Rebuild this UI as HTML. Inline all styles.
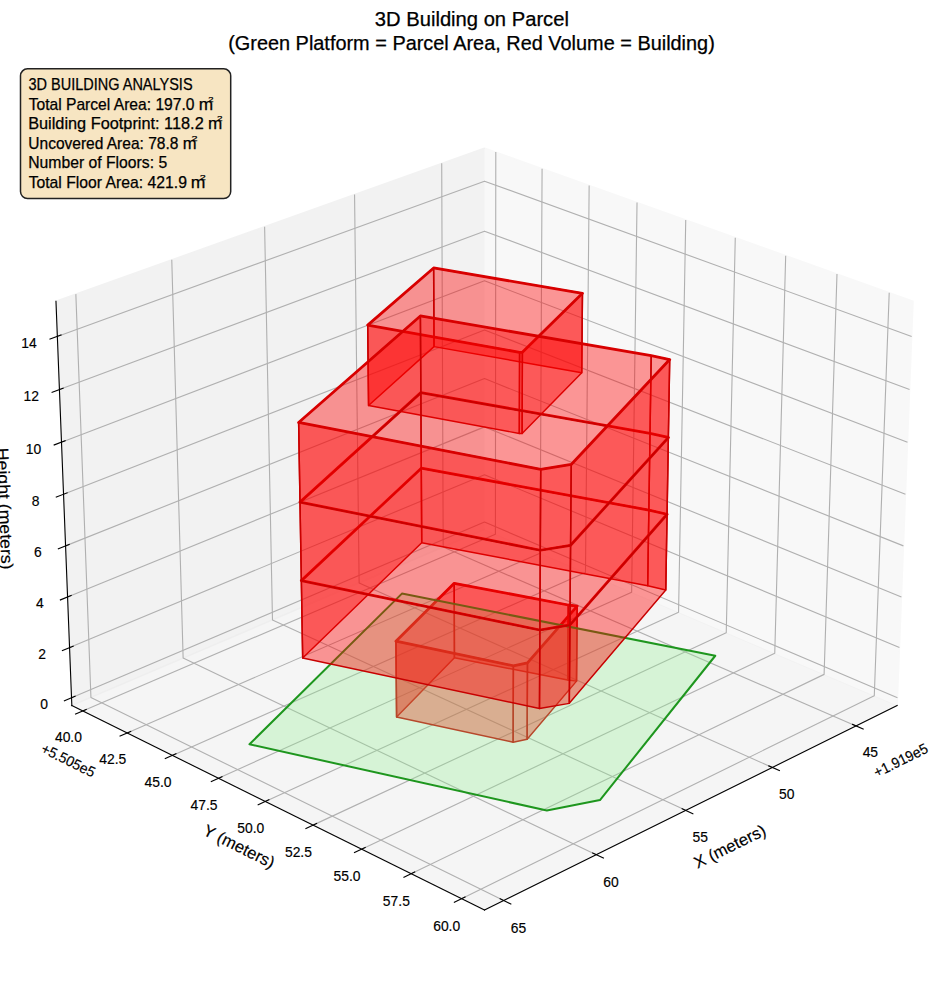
<!DOCTYPE html>
<html><head><meta charset="utf-8"><style>html,body{margin:0;padding:0;background:#fff;overflow:hidden}svg{display:block}</style></head><body>
<svg width="944" height="992" viewBox="0 0 679.68 714.24" version="1.1">
<defs>
<style type="text/css">*{stroke-linejoin: round; stroke-linecap: butt}</style>
</defs>
<g id="figure_1">
<g id="patch_1">
<path d="M 0 714.24 
L 679.68 714.24 
L 679.68 0 
L 0 0 
z
" style="fill: #ffffff"/>
</g>
<g id="patch_2">
<path d="M 7.21 706.82 
L 672.49 706.82 
L 672.49 41.54 
L 7.21 41.54 
z
" style="fill: #ffffff"/>
</g>
<g id="pane3d_1">
<g id="patch_3">
<path d="M 348.84 381.23 
L 645.95 508 
L 657.38 216.89 
L 348.84 106.61 
" style="fill: #f2f2f2; opacity: 0.5; stroke: #f2f2f2; stroke-linejoin: miter"/>
</g>
</g>
<g id="pane3d_2">
<g id="patch_4">
<path d="M 348.84 381.23 
L 51.72 508 
L 40.3 216.89 
L 348.84 106.61 
" style="fill: #e6e6e6; opacity: 0.5; stroke: #e6e6e6; stroke-linejoin: miter"/>
</g>
</g>
<g id="pane3d_3">
<g id="patch_5">
<path d="M 348.84 381.23 
L 51.72 508 
L 348.84 655.28 
L 645.95 508 
" style="fill: #ececec; opacity: 0.5; stroke: #ececec; stroke-linejoin: miter"/>
</g>
</g>
<g id="grid3d_1">
<g id="Line3DCollection_1">
<path d="M 616.36 522.66 
L 319.1 393.92 
L 318.03 117.62 
" style="fill: none; stroke: #b0b0b0; stroke-width: 0.8"/>
<path d="M 556.04 552.57 
L 258.58 419.74 
L 255.28 140.05 
" style="fill: none; stroke: #b0b0b0; stroke-width: 0.8"/>
<path d="M 493.72 583.46 
L 196.19 446.36 
L 190.52 163.2 
" style="fill: none; stroke: #b0b0b0; stroke-width: 0.8"/>
<path d="M 429.29 615.4 
L 131.85 473.81 
L 123.67 187.09 
" style="fill: none; stroke: #b0b0b0; stroke-width: 0.8"/>
<path d="M 362.66 648.43 
L 65.48 502.13 
L 54.61 211.78 
" style="fill: none; stroke: #b0b0b0; stroke-width: 0.8"/>
</g>
</g>
<g id="grid3d_2">
<g id="Line3DCollection_2">
<path d="M 356.97 109.51 
L 356.69 384.58 
L 59.53 511.87 
" style="fill: none; stroke: #b0b0b0; stroke-width: 0.8"/>
<path d="M 390.3 121.43 
L 388.86 398.3 
L 91.55 527.74 
" style="fill: none; stroke: #b0b0b0; stroke-width: 0.8"/>
<path d="M 424.19 133.54 
L 421.55 412.25 
L 124.13 543.89 
" style="fill: none; stroke: #b0b0b0; stroke-width: 0.8"/>
<path d="M 458.66 145.86 
L 454.78 426.43 
L 157.28 560.32 
" style="fill: none; stroke: #b0b0b0; stroke-width: 0.8"/>
<path d="M 493.73 158.4 
L 488.56 440.84 
L 191.03 577.05 
" style="fill: none; stroke: #b0b0b0; stroke-width: 0.8"/>
<path d="M 529.4 171.15 
L 522.9 455.5 
L 225.39 594.09 
" style="fill: none; stroke: #b0b0b0; stroke-width: 0.8"/>
<path d="M 565.69 184.12 
L 557.83 470.4 
L 260.37 611.43 
" style="fill: none; stroke: #b0b0b0; stroke-width: 0.8"/>
<path d="M 602.63 197.33 
L 593.35 485.55 
L 295.99 629.09 
" style="fill: none; stroke: #b0b0b0; stroke-width: 0.8"/>
<path d="M 640.23 210.76 
L 629.48 500.97 
L 332.28 647.07 
" style="fill: none; stroke: #b0b0b0; stroke-width: 0.8"/>
</g>
</g>
<g id="grid3d_3">
<g id="Line3DCollection_3">
<path d="M 51.5 502.39 
L 348.84 375.92 
L 646.17 502.39 
" style="fill: none; stroke: #b0b0b0; stroke-width: 0.8"/>
<path d="M 50.09 466.28 
L 348.84 341.78 
L 647.59 466.28 
" style="fill: none; stroke: #b0b0b0; stroke-width: 0.8"/>
<path d="M 48.65 429.83 
L 348.84 307.34 
L 649.02 429.83 
" style="fill: none; stroke: #b0b0b0; stroke-width: 0.8"/>
<path d="M 47.21 393.03 
L 348.84 272.59 
L 650.46 393.03 
" style="fill: none; stroke: #b0b0b0; stroke-width: 0.8"/>
<path d="M 45.75 355.87 
L 348.84 237.53 
L 651.92 355.87 
" style="fill: none; stroke: #b0b0b0; stroke-width: 0.8"/>
<path d="M 44.28 318.35 
L 348.84 202.15 
L 653.39 318.35 
" style="fill: none; stroke: #b0b0b0; stroke-width: 0.8"/>
<path d="M 42.79 280.46 
L 348.84 166.45 
L 654.88 280.46 
" style="fill: none; stroke: #b0b0b0; stroke-width: 0.8"/>
<path d="M 41.29 242.21 
L 348.84 130.43 
L 656.38 242.21 
" style="fill: none; stroke: #b0b0b0; stroke-width: 0.8"/>
</g>
</g>
<g id="axis3d_1">
<g id="line2d_1">
<path d="M 645.95 508 
L 348.84 655.28 
" style="fill: none; stroke: #000000; stroke-width: 0.8; stroke-linecap: square"/>
</g>
<g id="xtick_1">
<g id="line2d_2">
<path d="M 613.81 521.55 
L 621.49 524.88 
" style="fill: none; stroke: #000000; stroke-width: 0.8; stroke-linecap: square"/>
</g>
<g id="text_1">
<text style="font-size:10.60px;font-family:'Liberation Sans';text-anchor:middle;stroke:#000;stroke-width:0.12px" x="626.66" y="544.88" transform="rotate(-0 626.66 544.88)" textLength="11.12" lengthAdjust="spacingAndGlyphs">45</text>
</g>
</g>
<g id="xtick_2">
<g id="line2d_3">
<path d="M 553.48 551.42 
L 561.17 554.86 
" style="fill: none; stroke: #000000; stroke-width: 0.8; stroke-linecap: square"/>
</g>
<g id="text_2">
<text style="font-size:10.60px;font-family:'Liberation Sans';text-anchor:middle;stroke:#000;stroke-width:0.12px" x="566.42" y="575.05" transform="rotate(-0 566.42 575.05)" textLength="11.12" lengthAdjust="spacingAndGlyphs">50</text>
</g>
</g>
<g id="xtick_3">
<g id="line2d_4">
<path d="M 491.15 582.28 
L 498.86 585.83 
" style="fill: none; stroke: #000000; stroke-width: 0.8; stroke-linecap: square"/>
</g>
<g id="text_3">
<text style="font-size:10.60px;font-family:'Liberation Sans';text-anchor:middle;stroke:#000;stroke-width:0.12px" x="504.19" y="606.22" transform="rotate(-0 504.19 606.22)" textLength="11.12" lengthAdjust="spacingAndGlyphs">55</text>
</g>
</g>
<g id="xtick_4">
<g id="line2d_5">
<path d="M 426.73 614.18 
L 434.44 617.85 
" style="fill: none; stroke: #000000; stroke-width: 0.8; stroke-linecap: square"/>
</g>
<g id="text_4">
<text style="font-size:10.60px;font-family:'Liberation Sans';text-anchor:middle;stroke:#000;stroke-width:0.12px" x="439.86" y="638.45" transform="rotate(-0 439.86 638.45)" textLength="11.12" lengthAdjust="spacingAndGlyphs">60</text>
</g>
</g>
<g id="xtick_5">
<g id="line2d_6">
<path d="M 360.09 647.16 
L 367.81 650.96 
" style="fill: none; stroke: #000000; stroke-width: 0.8; stroke-linecap: square"/>
</g>
<g id="text_5">
<text style="font-size:10.60px;font-family:'Liberation Sans';text-anchor:middle;stroke:#000;stroke-width:0.12px" x="373.32" y="671.78" transform="rotate(-0 373.32 671.78)" textLength="11.12" lengthAdjust="spacingAndGlyphs">65</text>
</g>
</g>
<g id="text_6">
<text style="font-size:10.60px;font-family:'Liberation Sans';text-anchor:end;stroke:#000;stroke-width:0.12px" x="668.97" y="541.35" transform="rotate(-26.37 668.97 541.35)" textLength="41.99" lengthAdjust="spacingAndGlyphs">+1.919e5</text>
</g>
<g id="text_7">
<text style="font-size:12.00px;font-family:'Liberation Sans';text-anchor:middle;stroke:#000;stroke-width:0.12px" x="527.32" y="613.07" transform="rotate(-26.37 527.32 613.07)" textLength="56.00" lengthAdjust="spacingAndGlyphs">X (meters)</text>
</g>
</g>
<g id="axis3d_2">
<g id="line2d_7">
<path d="M 51.72 508 
L 348.84 655.28 
" style="fill: none; stroke: #000000; stroke-width: 0.8; stroke-linecap: square"/>
</g>
<g id="xtick_6">
<g id="line2d_8">
<path d="M 62.09 510.77 
L 54.42 514.06 
" style="fill: none; stroke: #000000; stroke-width: 0.8; stroke-linecap: square"/>
</g>
<g id="text_8">
<text style="font-size:10.60px;font-family:'Liberation Sans';text-anchor:middle;stroke:#000;stroke-width:0.12px" x="49.27" y="533.99" transform="rotate(-0 49.27 533.99)" textLength="19.46" lengthAdjust="spacingAndGlyphs">40.0</text>
</g>
</g>
<g id="xtick_7">
<g id="line2d_9">
<path d="M 94.11 526.63 
L 86.43 529.97 
" style="fill: none; stroke: #000000; stroke-width: 0.8; stroke-linecap: square"/>
</g>
<g id="text_9">
<text style="font-size:10.60px;font-family:'Liberation Sans';text-anchor:middle;stroke:#000;stroke-width:0.12px" x="81.24" y="550.00" transform="rotate(-0 81.24 550.00)" textLength="19.46" lengthAdjust="spacingAndGlyphs">42.5</text>
</g>
</g>
<g id="xtick_8">
<g id="line2d_10">
<path d="M 126.69 542.76 
L 119 546.16 
" style="fill: none; stroke: #000000; stroke-width: 0.8; stroke-linecap: square"/>
</g>
<g id="text_10">
<text style="font-size:10.60px;font-family:'Liberation Sans';text-anchor:middle;stroke:#000;stroke-width:0.12px" x="113.77" y="566.30" transform="rotate(-0 113.77 566.30)" textLength="19.46" lengthAdjust="spacingAndGlyphs">45.0</text>
</g>
</g>
<g id="xtick_9">
<g id="line2d_11">
<path d="M 159.84 559.17 
L 152.15 562.63 
" style="fill: none; stroke: #000000; stroke-width: 0.8; stroke-linecap: square"/>
</g>
<g id="text_11">
<text style="font-size:10.60px;font-family:'Liberation Sans';text-anchor:middle;stroke:#000;stroke-width:0.12px" x="146.88" y="582.88" transform="rotate(-0 146.88 582.88)" textLength="19.46" lengthAdjust="spacingAndGlyphs">47.5</text>
</g>
</g>
<g id="xtick_10">
<g id="line2d_12">
<path d="M 193.59 575.88 
L 185.89 579.41 
" style="fill: none; stroke: #000000; stroke-width: 0.8; stroke-linecap: square"/>
</g>
<g id="text_12">
<text style="font-size:10.60px;font-family:'Liberation Sans';text-anchor:middle;stroke:#000;stroke-width:0.12px" x="180.58" y="599.76" transform="rotate(-0 180.58 599.76)" textLength="19.46" lengthAdjust="spacingAndGlyphs">50.0</text>
</g>
</g>
<g id="xtick_11">
<g id="line2d_13">
<path d="M 227.95 592.89 
L 220.25 596.48 
" style="fill: none; stroke: #000000; stroke-width: 0.8; stroke-linecap: square"/>
</g>
<g id="text_13">
<text style="font-size:10.60px;font-family:'Liberation Sans';text-anchor:middle;stroke:#000;stroke-width:0.12px" x="214.88" y="616.94" transform="rotate(-0 214.88 616.94)" textLength="19.46" lengthAdjust="spacingAndGlyphs">52.5</text>
</g>
</g>
<g id="xtick_12">
<g id="line2d_14">
<path d="M 262.93 610.21 
L 255.23 613.86 
" style="fill: none; stroke: #000000; stroke-width: 0.8; stroke-linecap: square"/>
</g>
<g id="text_14">
<text style="font-size:10.60px;font-family:'Liberation Sans';text-anchor:middle;stroke:#000;stroke-width:0.12px" x="249.81" y="634.44" transform="rotate(-0 249.81 634.44)" textLength="19.46" lengthAdjust="spacingAndGlyphs">55.0</text>
</g>
</g>
<g id="xtick_13">
<g id="line2d_15">
<path d="M 298.56 627.85 
L 290.85 631.57 
" style="fill: none; stroke: #000000; stroke-width: 0.8; stroke-linecap: square"/>
</g>
<g id="text_15">
<text style="font-size:10.60px;font-family:'Liberation Sans';text-anchor:middle;stroke:#000;stroke-width:0.12px" x="285.39" y="652.26" transform="rotate(-0 285.39 652.26)" textLength="19.46" lengthAdjust="spacingAndGlyphs">57.5</text>
</g>
</g>
<g id="xtick_14">
<g id="line2d_16">
<path d="M 334.84 645.81 
L 327.13 649.6 
" style="fill: none; stroke: #000000; stroke-width: 0.8; stroke-linecap: square"/>
</g>
<g id="text_16">
<text style="font-size:10.60px;font-family:'Liberation Sans';text-anchor:middle;stroke:#000;stroke-width:0.12px" x="321.62" y="670.41" transform="rotate(-0 321.62 670.41)" textLength="19.46" lengthAdjust="spacingAndGlyphs">60.0</text>
</g>
</g>
<g id="text_17">
<text style="font-size:10.60px;font-family:'Liberation Sans';text-anchor:start;stroke:#000;stroke-width:0.12px" x="28.71" y="541.35" transform="rotate(-333.63 28.71 541.35)" textLength="41.99" lengthAdjust="spacingAndGlyphs">+5.505e5</text>
</g>
<g id="text_18">
<text style="font-size:12.00px;font-family:'Liberation Sans';text-anchor:middle;stroke:#000;stroke-width:0.12px" x="170.35" y="613.07" transform="rotate(-333.63 170.35 613.07)" textLength="55.79" lengthAdjust="spacingAndGlyphs">Y (meters)</text>
</g>
</g>
<g id="axis3d_3">
<g id="line2d_17">
<path d="M 51.72 508 
L 40.3 216.89 
" style="fill: none; stroke: #000000; stroke-width: 0.8; stroke-linecap: square"/>
</g>
<g id="xtick_15">
<g id="line2d_18">
<path d="M 54.06 501.3 
L 46.38 504.56 
" style="fill: none; stroke: #000000; stroke-width: 0.8; stroke-linecap: square"/>
</g>
<g id="text_19">
<text style="font-size:10.60px;font-family:'Liberation Sans';text-anchor:middle;stroke:#000;stroke-width:0.12px" x="31.77" y="510.63" transform="rotate(-0 31.77 510.63)" textLength="5.56" lengthAdjust="spacingAndGlyphs">0</text>
</g>
</g>
<g id="xtick_16">
<g id="line2d_19">
<path d="M 52.65 465.21 
L 44.94 468.42 
" style="fill: none; stroke: #000000; stroke-width: 0.8; stroke-linecap: square"/>
</g>
<g id="text_20">
<text style="font-size:10.60px;font-family:'Liberation Sans';text-anchor:middle;stroke:#000;stroke-width:0.12px" x="30.26" y="474.53" transform="rotate(-0 30.26 474.53)" textLength="5.56" lengthAdjust="spacingAndGlyphs">2</text>
</g>
</g>
<g id="xtick_17">
<g id="line2d_20">
<path d="M 51.24 428.77 
L 43.48 431.94 
" style="fill: none; stroke: #000000; stroke-width: 0.8; stroke-linecap: square"/>
</g>
<g id="text_21">
<text style="font-size:10.60px;font-family:'Liberation Sans';text-anchor:middle;stroke:#000;stroke-width:0.12px" x="28.73" y="438.08" transform="rotate(-0 28.73 438.08)" textLength="5.56" lengthAdjust="spacingAndGlyphs">4</text>
</g>
</g>
<g id="xtick_18">
<g id="line2d_21">
<path d="M 49.81 391.99 
L 42.01 395.1 
" style="fill: none; stroke: #000000; stroke-width: 0.8; stroke-linecap: square"/>
</g>
<g id="text_22">
<text style="font-size:10.60px;font-family:'Liberation Sans';text-anchor:middle;stroke:#000;stroke-width:0.12px" x="27.19" y="401.27" transform="rotate(-0 27.19 401.27)" textLength="5.56" lengthAdjust="spacingAndGlyphs">6</text>
</g>
</g>
<g id="xtick_19">
<g id="line2d_22">
<path d="M 48.36 354.85 
L 40.53 357.91 
" style="fill: none; stroke: #000000; stroke-width: 0.8; stroke-linecap: square"/>
</g>
<g id="text_23">
<text style="font-size:10.60px;font-family:'Liberation Sans';text-anchor:middle;stroke:#000;stroke-width:0.12px" x="25.63" y="364.11" transform="rotate(-0 25.63 364.11)" textLength="5.56" lengthAdjust="spacingAndGlyphs">8</text>
</g>
</g>
<g id="xtick_20">
<g id="line2d_23">
<path d="M 46.9 317.35 
L 39.03 320.35 
" style="fill: none; stroke: #000000; stroke-width: 0.8; stroke-linecap: square"/>
</g>
<g id="text_24">
<text style="font-size:10.60px;font-family:'Liberation Sans';text-anchor:middle;stroke:#000;stroke-width:0.12px" x="24.06" y="326.60" transform="rotate(-0 24.06 326.60)" textLength="11.12" lengthAdjust="spacingAndGlyphs">10</text>
</g>
</g>
<g id="xtick_21">
<g id="line2d_24">
<path d="M 45.43 279.48 
L 37.51 282.43 
" style="fill: none; stroke: #000000; stroke-width: 0.8; stroke-linecap: square"/>
</g>
<g id="text_25">
<text style="font-size:10.60px;font-family:'Liberation Sans';text-anchor:middle;stroke:#000;stroke-width:0.12px" x="22.48" y="288.71" transform="rotate(-0 22.48 288.71)" textLength="11.12" lengthAdjust="spacingAndGlyphs">12</text>
</g>
</g>
<g id="xtick_22">
<g id="line2d_25">
<path d="M 43.94 241.24 
L 35.98 244.13 
" style="fill: none; stroke: #000000; stroke-width: 0.8; stroke-linecap: square"/>
</g>
<g id="text_26">
<text style="font-size:10.60px;font-family:'Liberation Sans';text-anchor:middle;stroke:#000;stroke-width:0.12px" x="20.88" y="250.45" transform="rotate(-0 20.88 250.45)" textLength="11.12" lengthAdjust="spacingAndGlyphs">14</text>
</g>
</g>
<g id="text_27">
<text style="font-size:12.00px;font-family:'Liberation Sans';text-anchor:middle;stroke:#000;stroke-width:0.12px" x="-0.63" y="366.41" transform="rotate(-272.25 -0.63 366.41)" textLength="87.65" lengthAdjust="spacingAndGlyphs">Height (meters)</text>
</g>
</g>
<g id="axes_1">
<g id="Poly3DCollection_1">
<path d="M 408.74 489.59 
L 327.19 473.59 
L 327.03 419.96 
L 409.17 435.6 
z
" clip-path="url(#p5c4aa6cc1f)" style="fill: #ff0000; fill-opacity: 0.4; stroke: #c80000; stroke-width: 1.05"/>
<path d="M 415.1 490.42 
L 408.74 489.59 
L 409.17 435.6 
L 415.57 436.4 
z
" clip-path="url(#p5c4aa6cc1f)" style="fill: #ff0000; fill-opacity: 0.4; stroke: #c80000; stroke-width: 1.05"/>
<path d="M 327.19 473.59 
L 285.54 516.27 
L 285.08 461.66 
L 327.03 419.96 
z
" clip-path="url(#p5c4aa6cc1f)" style="fill: #ff0000; fill-opacity: 0.4; stroke: #c80000; stroke-width: 1.05"/>
<path d="M 379.55 532.26 
L 415.1 490.42 
L 415.57 436.4 
L 379.78 477.29 
z
" clip-path="url(#p5c4aa6cc1f)" style="fill: #ff0000; fill-opacity: 0.4; stroke: #c80000; stroke-width: 1.05"/>
<path d="M 285.54 516.27 
L 369.48 534.37 
L 369.63 479.35 
L 285.08 461.66 
z
" clip-path="url(#p5c4aa6cc1f)" style="fill: #ff0000; fill-opacity: 0.4; stroke: #c80000; stroke-width: 1.05"/>
<path d="M 369.48 534.37 
L 379.55 532.26 
L 379.78 477.29 
L 369.63 479.35 
z
" clip-path="url(#p5c4aa6cc1f)" style="fill: #ff0000; fill-opacity: 0.4; stroke: #c80000; stroke-width: 1.05"/>
</g>
<g id="Poly3DCollection_2">
<defs>
<path id="m2310b0d514" d="M 285.08 -252.58 
L 369.63 -234.89 
L 379.78 -236.95 
L 415.57 -277.84 
L 409.17 -278.64 
L 327.03 -294.28 
z
" style="stroke: #d80000; stroke-width: 2"/>
</defs>
<g clip-path="url(#p5c4aa6cc1f)">
<use href="#m2310b0d514" x="0" y="714.24" style="fill: #ff0000; fill-opacity: 0; stroke: #d80000; stroke-width: 2"/>
</g>
</g>
<g id="Poly3DCollection_3">
<defs>
<path id="mc776e801ff" d="M 179.62 -178.37 
L 289.38 -286.85 
L 515 -242.1 
L 431.98 -138.22 
L 393.74 -130.64 
z
" style="stroke: #1e961e; stroke-width: 1.45"/>
</defs>
<g clip-path="url(#p5c4aa6cc1f)">
<use href="#mc776e801ff" x="0" y="714.24" style="fill: #90ee90; fill-opacity: 0.3; stroke: #1e961e; stroke-width: 1.45"/>
</g>
</g>
<g id="Poly3DCollection_4">
<path d="M 466.34 421.68 
L 303.64 390.79 
L 303.33 337.12 
L 467.18 367.25 
z
" clip-path="url(#p5c4aa6cc1f)" style="fill: #ff0000; fill-opacity: 0.4; stroke: #c80000; stroke-width: 1.05"/>
<path d="M 479.36 424.75 
L 466.34 421.68 
L 467.18 367.25 
L 480.29 370.25 
z
" clip-path="url(#p5c4aa6cc1f)" style="fill: #ff0000; fill-opacity: 0.4; stroke: #c80000; stroke-width: 1.05"/>
<path d="M 303.64 390.79 
L 217.93 473.75 
L 216.97 418.05 
L 303.33 337.12 
z
" clip-path="url(#p5c4aa6cc1f)" style="fill: #ff0000; fill-opacity: 0.4; stroke: #c80000; stroke-width: 1.05"/>
<path d="M 409.89 506.41 
L 479.36 424.75 
L 480.29 370.25 
L 410.35 449.94 
z
" clip-path="url(#p5c4aa6cc1f)" style="fill: #ff0000; fill-opacity: 0.4; stroke: #c80000; stroke-width: 1.05"/>
<path d="M 217.93 473.75 
L 388.43 510.16 
L 388.72 453.6 
L 216.97 418.05 
z
" clip-path="url(#p5c4aa6cc1f)" style="fill: #ff0000; fill-opacity: 0.4; stroke: #c80000; stroke-width: 1.05"/>
<path d="M 388.43 510.16 
L 409.89 506.41 
L 410.35 449.94 
L 388.72 453.6 
z
" clip-path="url(#p5c4aa6cc1f)" style="fill: #ff0000; fill-opacity: 0.4; stroke: #c80000; stroke-width: 1.05"/>
</g>
<g id="Poly3DCollection_5">
<defs>
<path id="mcab7ebeb13" d="M 216.97 -296.19 
L 388.72 -260.64 
L 410.35 -264.3 
L 480.29 -343.99 
L 467.18 -346.99 
L 303.33 -377.12 
z
" style="stroke: #d80000; stroke-width: 2"/>
</defs>
<g clip-path="url(#p5c4aa6cc1f)">
<use href="#mcab7ebeb13" x="0" y="714.24" style="fill: #ff0000; fill-opacity: 0; stroke: #d80000; stroke-width: 2"/>
</g>
</g>
<g id="Poly3DCollection_6">
<path d="M 418.86 268.34 
L 312.49 249.58 
L 312.22 192.95 
L 419.37 211.17 
z
" clip-path="url(#p5c4aa6cc1f)" style="fill: #ff0000; fill-opacity: 0.4; stroke: #c80000; stroke-width: 1.05"/>
<path d="M 312.49 249.58 
L 265.36 291.95 
L 264.74 234.09 
L 312.22 192.95 
z
" clip-path="url(#p5c4aa6cc1f)" style="fill: #ff0000; fill-opacity: 0.4; stroke: #c80000; stroke-width: 1.05"/>
<path d="M 375.92 312.1 
L 418.86 268.34 
L 419.37 211.17 
L 376.12 253.66 
z
" clip-path="url(#p5c4aa6cc1f)" style="fill: #ff0000; fill-opacity: 0.4; stroke: #c80000; stroke-width: 1.05"/>
<path d="M 265.36 291.95 
L 373.92 312.1 
L 374.11 253.65 
L 264.74 234.09 
z
" clip-path="url(#p5c4aa6cc1f)" style="fill: #ff0000; fill-opacity: 0.4; stroke: #c80000; stroke-width: 1.05"/>
<path d="M 373.92 312.1 
L 375.92 312.1 
L 376.12 253.66 
L 374.11 253.65 
z
" clip-path="url(#p5c4aa6cc1f)" style="fill: #ff0000; fill-opacity: 0.4; stroke: #c80000; stroke-width: 1.05"/>
</g>
<g id="Poly3DCollection_7">
<defs>
<path id="mf108a5ea0c" d="M 312.22 -521.29 
L 264.74 -480.15 
L 374.11 -460.59 
L 376.12 -460.58 
L 419.37 -503.07 
z
" style="stroke: #d80000; stroke-width: 2"/>
</defs>
<g clip-path="url(#p5c4aa6cc1f)">
<use href="#mf108a5ea0c" x="0" y="714.24" style="fill: #ff0000; fill-opacity: 0; stroke: #d80000; stroke-width: 2"/>
</g>
</g>
<g id="Poly3DCollection_8">
<path d="M 467.18 367.25 
L 303.33 337.12 
L 303.01 282.7 
L 468.02 312.05 
z
" clip-path="url(#p5c4aa6cc1f)" style="fill: #ff0000; fill-opacity: 0.4; stroke: #c80000; stroke-width: 1.05"/>
<path d="M 480.29 370.25 
L 467.18 367.25 
L 468.02 312.05 
L 481.23 314.97 
z
" clip-path="url(#p5c4aa6cc1f)" style="fill: #ff0000; fill-opacity: 0.4; stroke: #c80000; stroke-width: 1.05"/>
<path d="M 303.33 337.12 
L 216.97 418.05 
L 216 361.54 
L 303.01 282.7 
z
" clip-path="url(#p5c4aa6cc1f)" style="fill: #ff0000; fill-opacity: 0.4; stroke: #c80000; stroke-width: 1.05"/>
<path d="M 410.35 449.94 
L 480.29 370.25 
L 481.23 314.97 
L 410.81 392.61 
z
" clip-path="url(#p5c4aa6cc1f)" style="fill: #ff0000; fill-opacity: 0.4; stroke: #c80000; stroke-width: 1.05"/>
<path d="M 216.97 418.05 
L 388.72 453.6 
L 389.02 396.18 
L 216 361.54 
z
" clip-path="url(#p5c4aa6cc1f)" style="fill: #ff0000; fill-opacity: 0.4; stroke: #c80000; stroke-width: 1.05"/>
<path d="M 388.72 453.6 
L 410.35 449.94 
L 410.81 392.61 
L 389.02 396.18 
z
" clip-path="url(#p5c4aa6cc1f)" style="fill: #ff0000; fill-opacity: 0.4; stroke: #c80000; stroke-width: 1.05"/>
</g>
<g id="Poly3DCollection_9">
<defs>
<path id="m34fb67b38a" d="M 216 -352.7 
L 389.02 -318.06 
L 410.81 -321.63 
L 481.23 -399.27 
L 468.02 -402.19 
L 303.01 -431.54 
z
" style="stroke: #d80000; stroke-width: 2"/>
</defs>
<g clip-path="url(#p5c4aa6cc1f)">
<use href="#m34fb67b38a" x="0" y="714.24" style="fill: #ff0000; fill-opacity: 0; stroke: #d80000; stroke-width: 2"/>
</g>
</g>
<g id="Poly3DCollection_10">
<path d="M 468.02 312.05 
L 303.01 282.7 
L 302.68 227.51 
L 468.88 256.04 
z
" clip-path="url(#p5c4aa6cc1f)" style="fill: #ff0000; fill-opacity: 0.4; stroke: #c80000; stroke-width: 1.05"/>
<path d="M 481.23 314.97 
L 468.02 312.05 
L 468.88 256.04 
L 482.19 258.88 
z
" clip-path="url(#p5c4aa6cc1f)" style="fill: #ff0000; fill-opacity: 0.4; stroke: #c80000; stroke-width: 1.05"/>
<path d="M 303.01 282.7 
L 216 361.54 
L 215.01 304.19 
L 302.68 227.51 
z
" clip-path="url(#p5c4aa6cc1f)" style="fill: #ff0000; fill-opacity: 0.4; stroke: #c80000; stroke-width: 1.05"/>
<path d="M 410.81 392.61 
L 481.23 314.97 
L 482.19 258.88 
L 411.28 334.42 
z
" clip-path="url(#p5c4aa6cc1f)" style="fill: #ff0000; fill-opacity: 0.4; stroke: #c80000; stroke-width: 1.05"/>
<path d="M 216 361.54 
L 389.02 396.18 
L 389.33 337.89 
L 215.01 304.19 
z
" clip-path="url(#p5c4aa6cc1f)" style="fill: #ff0000; fill-opacity: 0.4; stroke: #c80000; stroke-width: 1.05"/>
<path d="M 389.02 396.18 
L 410.81 392.61 
L 411.28 334.42 
L 389.33 337.89 
z
" clip-path="url(#p5c4aa6cc1f)" style="fill: #ff0000; fill-opacity: 0.4; stroke: #c80000; stroke-width: 1.05"/>
</g>
<g id="Poly3DCollection_11">
<defs>
<path id="m3eee364cc6" d="M 215.01 -410.05 
L 389.33 -376.35 
L 411.28 -379.82 
L 482.19 -455.36 
L 468.88 -458.2 
L 302.68 -486.73 
z
" style="stroke: #d80000; stroke-width: 2"/>
</defs>
<g clip-path="url(#p5c4aa6cc1f)">
<use href="#m3eee364cc6" x="0" y="714.24" style="fill: #ff0000; fill-opacity: 0; stroke: #d80000; stroke-width: 2"/>
</g>
</g>
</g>
</g>
<defs>
<clipPath id="p5c4aa6cc1f">
<rect x="7.21" y="41.54" width="665.28" height="665.28"/>
</clipPath>
</defs>
<g transform="scale(0.72)" style="font-family:'Liberation Sans',sans-serif;fill:#000;stroke:#000;stroke-width:0.25">
<text x="374.83" y="26.20" font-size="19.30" textLength="194.09" lengthAdjust="spacingAndGlyphs">3D Building on Parcel</text>
<text x="228.17" y="50.20" font-size="19.30" textLength="486.66" lengthAdjust="spacingAndGlyphs">(Green Platform = Parcel Area, Red Volume = Building)</text>
<rect x="20.5" y="68.8" width="210.2" height="129.8" rx="7" ry="7" fill="#f7e5c2" stroke="#222" stroke-width="1.5"/>
<text x="28.45" y="89.80" font-size="15.80" textLength="164.12" lengthAdjust="spacingAndGlyphs">3D BUILDING ANALYSIS</text>
<text x="28.66" y="109.80" font-size="15.80" textLength="165.85" lengthAdjust="spacingAndGlyphs">Total Parcel Area: 197.0</text>
<text x="198.66" y="109.80" font-size="15.80" textLength="14.38" lengthAdjust="spacingAndGlyphs">m</text>
<text x="208.23" y="101.90" font-size="6.40" textLength="5.24" lengthAdjust="spacingAndGlyphs">2</text>
<text x="28.16" y="129.00" font-size="15.80" textLength="175.56" lengthAdjust="spacingAndGlyphs">Building Footprint: 118.2</text>
<text x="207.97" y="129.00" font-size="15.80" textLength="14.26" lengthAdjust="spacingAndGlyphs">m</text>
<text x="217.01" y="121.10" font-size="6.40" textLength="5.49" lengthAdjust="spacingAndGlyphs">2</text>
<text x="28.31" y="148.80" font-size="15.80" textLength="150.06" lengthAdjust="spacingAndGlyphs">Uncovered Area: 78.8</text>
<text x="182.81" y="148.80" font-size="15.80" textLength="13.78" lengthAdjust="spacingAndGlyphs">m</text>
<text x="191.56" y="140.90" font-size="6.40" textLength="5.98" lengthAdjust="spacingAndGlyphs">2</text>
<text x="28.21" y="168.30" font-size="15.80" textLength="138.96" lengthAdjust="spacingAndGlyphs">Number of Floors: 5</text>
<text x="28.65" y="188.00" font-size="15.80" textLength="158.29" lengthAdjust="spacingAndGlyphs">Total Floor Area: 421.9</text>
<text x="190.74" y="188.00" font-size="15.80" textLength="14.62" lengthAdjust="spacingAndGlyphs">m</text>
<text x="199.86" y="180.10" font-size="6.40" textLength="5.98" lengthAdjust="spacingAndGlyphs">2</text>
</g>
</svg>

</body></html>
